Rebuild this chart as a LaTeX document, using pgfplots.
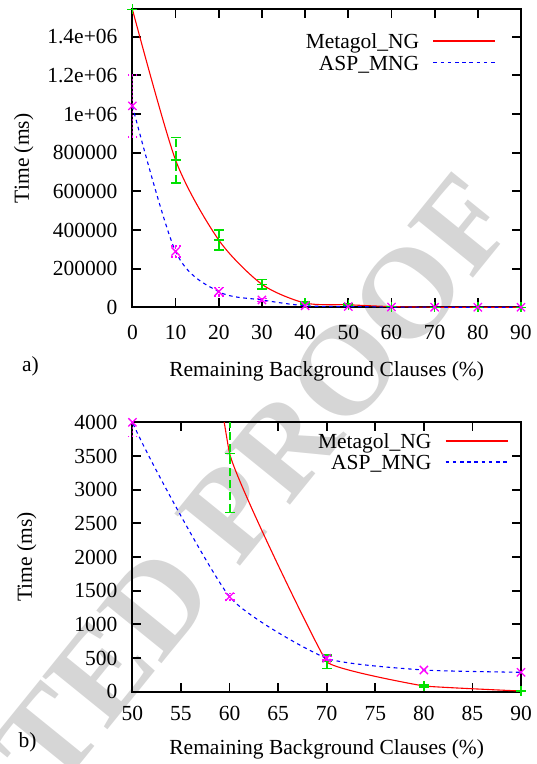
\documentclass[border=0pt]{standalone}
\usepackage{fontspec}
\setmainfont{Liberation Serif}
\usepackage{pgfplots}
\pgfplotsset{compat=1.18}
\pgfdeclarelayer{wmlayer}
\pgfsetlayers{wmlayer,main}
\definecolor{gpred}{RGB}{255,0,0}
\definecolor{gpgreen}{RGB}{0,225,0}
\definecolor{gpblue}{RGB}{0,0,255}
\definecolor{gpmag}{RGB}{255,0,255}
\definecolor{wm}{RGB}{214,214,214}
\newcommand\fs{\fontsize{10.75}{12}\selectfont}
\pgfplotsset{
  gp/.style={
    scale only axis, width=194.3pt,
    axis line style={line width=1pt},
    every tick/.style={line width=0.9pt, black},
    tick align=inside, major tick length=4.5pt,
    /pgf/number format/assume math mode=true,
    /pgf/number format/set thousands separator={},
    tick label style={font=\fs},
    label style={font=\fs},
    xticklabel style={anchor=base, inner sep=0pt, yshift=-16pt},
    yticklabel style={anchor=east, inner sep=0pt, xshift=-7.3pt},
    scaled y ticks=false,
    unbounded coords=jump,
    legend cell align=right, legend plot pos=right,
    legend style={draw=none, fill=none, inner sep=0pt, outer sep=0pt,
      row sep=0.7pt, column sep=6.65pt, font=\fs,
      nodes={inner sep=0pt, text height=8.8pt, text depth=1.2pt}},
    xlabel={Remaining Background Clauses (\%)},
    ylabel={Time (ms)},
  },
  metaline/.style={gpred, line width=0.55pt, smooth, tension=#1,
    legend image code/.code={\draw[gpred, line width=0.9pt] (0pt,0pt) -- (31pt,0pt);}},
  aspline/.style={gpblue, line width=0.55pt, dash pattern=on 1.8pt off 1.8pt, smooth, tension=#1,
    legend image code/.code={\draw[gpblue, line width=0.8pt, dash pattern=on 1.8pt off 1.8pt] (0pt,0pt) -- (31pt,0pt);}},
  metaerr/.style={forget plot, gpgreen, line width=0.95pt, dash pattern=on 4pt off 2pt,
    mark=-, mark size=2.5pt, mark options={solid, gpgreen, line width=0.7pt}},
  metapts/.style={forget plot, only marks, mark=+, mark size=2.5pt, gpgreen,
    mark options={solid, gpgreen, line width=0.7pt}},
  asperr/.style={forget plot, gpmag, line width=0.8pt, dash pattern=on 0.8pt off 1.2pt,
    mark=-, mark size=2.5pt, mark options={gpmag, line width=0.8pt, dash pattern=on 0.8pt off 1.2pt}},
  asppts/.style={forget plot, only marks, mark=x, mark size=2.9pt, gpmag,
    mark options={solid, gpmag, line width=0.65pt}},
}
\begin{document}
\begin{tikzpicture}
\path[use as bounding box] (0,0) rectangle (268pt,-382pt);
% ---------- panel a ----------
\begin{axis}[gp, at={(66.2pt,-153.65pt)}, anchor=south west, height=149pt,
  xmin=0, xmax=90, ymin=0, ymax=1542000,
  xtick={0,10,...,90},
  ytick={0,200000,400000,600000,800000,1000000,1200000,1400000},
  yticklabels={0,200000,400000,600000,800000,1e+06,1.2e+06,1.4e+06},
  xlabel style={at={(axis description cs:0.5,-0.2329)}, anchor=base, inner sep=0pt},
  ylabel style={at={(axis description cs:-0.2797,0.5)}, anchor=center, inner sep=0pt},
  legend style={at={(axis description cs:0.9365,0.9265)}, anchor=north east},
]
\addplot[metaline=0.45] coordinates {
  (0,1542000) (10,762000) (20,348000) (30,119000) (40,22000)
  (50,13000) (60,3540) (70,445) (80,85) (90,10)};
\addlegendentry{Metagol\_NG}
\addplot[metaerr] coordinates {
  (10,644000) (10,880000) (10,nan)
  (20,296000) (20,400000) (20,nan)
  (30,95000) (30,143000) (30,nan)
  (40,14000) (40,30000) (40,nan)
  (50,9000) (50,17000)};
\addplot[metapts] coordinates {
  (0,1542000) (10,762000) (20,348000) (30,119000) (40,22000)
  (50,13000) (60,3540) (70,445) (80,85) (90,10)};
\addplot[aspline=0.5] coordinates {
  (0,1042000) (10,289000) (20,81000) (30,38000) (40,8000)
  (50,4000) (60,1410) (70,496) (80,322) (90,288)};
\addlegendentry{ASP\_MNG}
\addplot[asperr] coordinates {
  (0,882000) (0,1202000) (0,nan)
  (10,261000) (10,317000) (10,nan)
  (20,59000) (20,103000) (20,nan)
  (30,30000) (30,46000)};
\addplot[asppts] coordinates {
  (0,1042000) (10,289000) (20,81000) (30,38000) (40,8000)
  (50,4000) (60,1410) (70,496) (80,322) (90,288)};
\end{axis}
\node[anchor=base west, inner sep=0pt, font=\fs] at (10.85pt,-185.5pt) {a)};
% ---------- panel b ----------
\begin{axis}[gp, at={(66.2pt,-345.85pt)}, anchor=south west, height=134.7pt,
  xmin=50, xmax=90, ymin=0, ymax=4000,
  xtick={50,55,...,90},
  ytick={0,500,...,4000},
  xticklabel style={yshift=1.5pt},
  xlabel style={at={(axis description cs:0.5,-0.2313)}, anchor=base, inner sep=0pt},
  ylabel style={at={(axis description cs:-0.2717,0.5)}, anchor=center, inner sep=0pt},
  legend style={at={(axis description cs:0.968,0.9688)}, anchor=north east},
]
\addplot[metaline=0.12] coordinates {
  (50,13000) (60,3540) (70,445) (80,85) (90,10)};
\addlegendentry{Metagol\_NG}
\addplot[metaerr] coordinates {
  (60,2664) (60,4416) (60,nan)
  (70,347) (70,545) (70,nan)
  (80,72) (80,98)};
\addplot[metapts] coordinates {
  (50,13000) (60,3540) (70,445) (80,85) (90,10)};
\addplot[aspline=0.3] coordinates {
  (40,8000) (50,4000) (60,1410) (70,496) (80,322) (90,288)};
\addlegendentry{ASP\_MNG}
\addplot[asperr] coordinates {
  (50,3787) (50,4213) (50,nan)
  (60,1360) (60,1460) (60,nan)
  (70,470) (70,522)};
\addplot[asppts] coordinates {
  (50,4000) (60,1410) (70,496) (80,322) (90,288)};
\end{axis}
\node[anchor=base west, inner sep=0pt, font=\fs] at (9.15pt,-373.5pt) {b)};
\begin{pgfonlayer}{wmlayer}
\node[rotate=51, anchor=base east, inner sep=0pt, text=wm,
  font=\fontsize{64}{66}\selectfont\bfseries] at (260.6pt,-109.9pt) {UNCORRECTED PROOF};
\end{pgfonlayer}
\end{tikzpicture}
\end{document}
